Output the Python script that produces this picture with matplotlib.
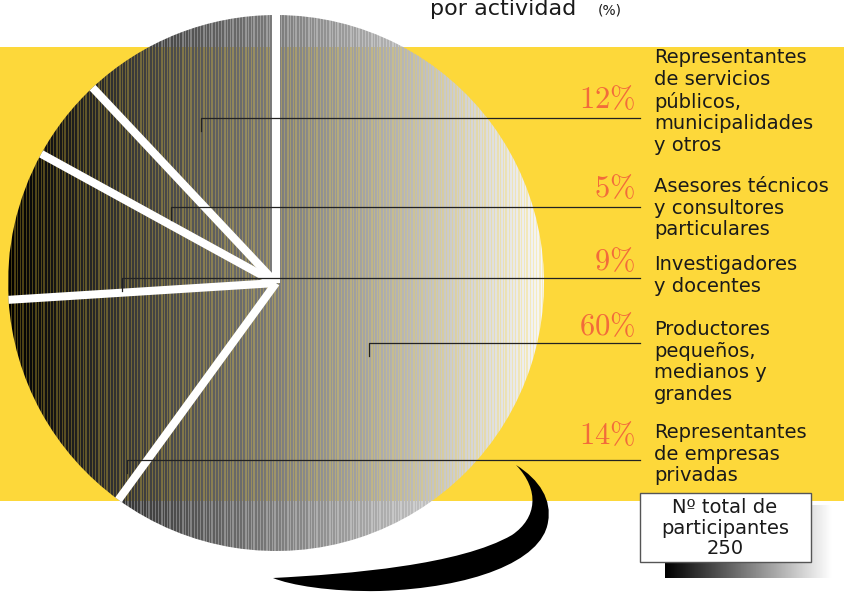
import numpy as np
import matplotlib
matplotlib.use("Agg")
import matplotlib.pyplot as plt
from matplotlib.patches import Rectangle, PathPatch
from matplotlib.path import Path

plt.rcParams['mathtext.fontset'] = 'cm'

# data, clockwise from 12 o'clock
shares = [60, 14, 9, 5, 12]
pct_labels = ['60', '14', '9', '5', '12']
categories = [
    'Productores\npequeños,\nmedianos y\ngrandes',
    'Representantes\nde empresas\nprivadas',
    'Investigadores\ny docentes',
    'Asesores técnicos\ny consultores\nparticulares',
    'Representantes\nde servicios\npúblicos,\nmunicipalidades\ny otros',
]
total = 250

# layout in pixels (y goes down)
W, H = 845, 592
cx, cy, rad = 276, 283, 268
label_top = [320, 423, 255, 177, 48]
pct_y = [327, 436, 262, 189, 100]
leader = [(369, 343), (127, 460), (122, 278), (171, 207), (201, 118)]
yellow = '#FDD83A'
orange = '#F26B3A'

fig = plt.figure(figsize=(W / 100, H / 100), dpi=100)
ax = fig.add_axes([0, 0, 1, 1])

ax.add_patch(Rectangle((0, 47), W, 454, facecolor=yellow, lw=0, zorder=0))

# y axis is inverted later, so start at -90 going ccw = visually clockwise from top
wedges, _ = ax.pie(shares, center=(cx, cy), radius=rad, startangle=-90,
                   counterclock=True,
                   wedgeprops=dict(facecolor='none', linewidth=0))

# finely striped grey gradient
ncol = 536
idx = np.arange(ncol)
gray = np.linspace(0.0, 0.97, ncol)
alpha = np.ones(ncol)
alpha[(idx % 3 == 0) | (idx % 7 == 0)] = 0.72
grad = np.zeros((1, ncol, 4))
grad[0, :, 0] = gray
grad[0, :, 1] = gray
grad[0, :, 2] = gray
grad[0, :, 3] = alpha
for w in wedges:
    im = ax.imshow(grad, extent=(cx - rad, cx + rad, cy + rad, cy - rad),
                   interpolation='nearest', zorder=1)
    im.set_clip_path(w)

# white separators between slices
cum = np.cumsum([0] + shares) / float(sum(shares))
for c in cum[:-1]:
    th = np.deg2rad(-90 + 360 * c)
    ax.plot([cx, cx + rad * np.cos(th)], [cy, cy + rad * np.sin(th)],
            color='white', lw=5.8, solid_capstyle='butt', zorder=2)

# swoosh shadow under the pie
verts = [(516, 465),
         (540, 480), (552, 500), (548, 522),
         (542, 562), (470, 588), (380, 591),
         (330, 592), (290, 585), (273, 578),
         (350, 574), (460, 565), (512, 535),
         (537, 518), (540, 490), (516, 465)]
codes = [Path.MOVETO] + [Path.CURVE4] * 15
ax.add_patch(PathPatch(Path(verts, codes), facecolor='black', lw=0, zorder=1.5))

# leaders, percentages and labels
for i in range(len(shares)):
    x0, y0 = leader[i]
    ax.plot([x0, x0, 640], [y0 + 13, y0, y0], color='#222222', lw=0.9, zorder=3)
    ax.text(635, pct_y[i], r'$\mathrm{%s\%%}$' % pct_labels[i], color=orange,
            fontsize=22, ha='right', va='center', zorder=6)
    ax.text(654, label_top[i], categories[i], color='#1a1a1a', fontsize=14,
            ha='left', va='top', linespacing=1.18, zorder=6)

# title (sits at the very top edge)
fig.text(430 / W, 1 - 15 / H, 'por actividad', fontsize=16, color='#1a1a1a',
         ha='left', va='baseline')
fig.text(598 / W, 1 - 15 / H, '(%)', fontsize=10, color='#1a1a1a',
         ha='left', va='baseline')

# total box with gradient shadow
shadow = np.linspace(0, 1, 200).reshape(1, -1)
ax.imshow(shadow, cmap='gray', extent=(665, 832, 578, 505), aspect='auto',
          interpolation='bilinear', zorder=4)
ax.add_patch(Rectangle((640, 493), 171, 69, facecolor='white',
                       edgecolor='#555555', lw=1, zorder=5))
ax.text(725, 528, 'Nº total de\nparticipantes\n%d' % total, fontsize=14,
        color='#1a1a1a', ha='center', va='center', linespacing=1.12, zorder=6)

ax.set_xlim(0, W)
ax.set_ylim(H, 0)
ax.set_aspect('auto')
ax.axis('off')

fig.savefig('out.png', dpi=100)
